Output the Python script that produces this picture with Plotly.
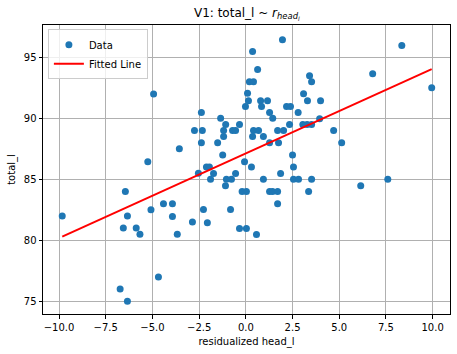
import plotly.graph_objects as go

# Data
resid_head = [
    -9.83, -6.45, -6.34, -6.56, -5.87, -5.67, -6.73, -6.34, -5.25, -5.08,
    -4.68, -4.41, -3.93, -3.93, -3.67, -2.86, -3.56, -2.75, -2.33, -2.38,
    -2.54, -4.94, -2.38, -1.35, -1.08, -1.19, -1.19, -1.51, -1.24, -0.71,
    -0.55, -0.34, -0.07, 0.30, 0.36, 0.41, 0.68, 0.94, 1.27, 1.75,
    1.70, 2.02, 2.34, 1.44, 1.27, 0.79, 1.16, 0.84, -0.02, 0.14,
    0.09, 0.19, 0.41, 0.63, 0.36, 1.96, 2.18, 2.39, 2.80, 2.50,
    2.55, 1.86, 0.94, 2.55, 2.82, -2.11, -1.95, -1.73, -1.89, -1.04,
    -0.77, -0.55, -1.09, -0.20, 0.03, -2.27, -0.82, -2.06, -0.34, 0.03,
    0.57, 1.27, 1.43, 1.70, 1.70, 3.52, 3.36, 3.05, 3.28, 3.30,
    3.52, 4.70, 5.13, 3.41, 3.52, 3.09, 4.00, 3.95, 8.35, 6.79,
    9.95, 6.15, 7.60,
]
total_l = [
    82.0, 84.0, 82.0, 81.0, 81.0, 80.5, 76.0, 75.0, 86.45, 82.5,
    77.0, 83.0, 83.0, 81.95, 80.5, 81.5, 87.5, 89.0, 89.0, 88.0,
    85.5, 92.0, 90.47, 90.0, 89.5, 89.0, 88.5, 88.0, 87.0, 89.0,
    89.0, 89.5, 86.45, 86.0, 88.5, 89.0, 89.0, 88.5, 88.0, 88.0,
    89.0, 89.0, 89.5, 90.0, 90.47, 91.45, 91.45, 90.96, 90.96, 91.45,
    92.05, 93.0, 93.0, 94.0, 95.47, 96.45, 90.96, 90.96, 90.47, 87.0,
    86.0, 85.47, 85.0, 85.0, 85.0, 86.0, 86.0, 85.47, 85.0, 85.0,
    85.0, 85.47, 84.48, 84.0, 84.0, 82.52, 82.52, 81.45, 80.96, 80.96,
    80.47, 84.0, 84.0, 84.0, 83.0, 85.0, 84.0, 89.5, 89.5, 91.45,
    89.5, 89.0, 88.0, 93.5, 93.0, 92.02, 91.45, 89.97, 95.96, 93.66,
    92.5, 84.48, 85.0,
]

# Fitted line coefficients
fit_slope = 0.694
fit_intercept = 87.13

x_ticks = [-10, -7.5, -5, -2.5, 0, 2.5, 5, 7.5, 10]
x_tick_labels = ["\u221210.0", "\u22127.5", "\u22125.0", "\u22122.5", "0.0", "2.5", "5.0", "7.5", "10.0"]
y_ticks = [75, 80, 85, 90, 95]
y_tick_labels = ["75", "80", "85", "90", "95"]

line_x = [min(resid_head), max(resid_head)]
line_y = [fit_intercept + fit_slope * v for v in line_x]

fig = go.Figure()
fig.add_trace(go.Scatter(
    x=resid_head, y=total_l, mode="markers", name="Data",
    marker=dict(color="#1f77b4", size=7, line=dict(width=0)),
))
fig.add_trace(go.Scatter(
    x=line_x, y=line_y, mode="lines", name="Fitted Line",
    line=dict(color="red", width=2),
))

font = "DejaVu Sans, sans-serif"
axis_common = dict(
    showline=True, linecolor="black", linewidth=1, mirror=True,
    ticks="outside", ticklen=3.5, tickcolor="black", tickwidth=0.8,
    showgrid=True, gridcolor="#b0b0b0", gridwidth=0.8, zeroline=False,
    tickfont=dict(family=font, size=10, color="black"),
)
fig.update_layout(
    width=457, height=354,
    margin=dict(l=43, r=7, t=25, b=40),
    paper_bgcolor="white", plot_bgcolor="white",
    font=dict(family=font, size=10, color="black"),
    title=dict(
        text="V1: total_l ~ <i>r</i><sub><i>head<sub>l</sub></i></sub>",
        x=0.54, xanchor="center", y=0.965, yanchor="middle",
        font=dict(family=font, size=12, color="black"),
    ),
    xaxis=dict(
        range=[-10.86, 10.93], tickvals=x_ticks, ticktext=x_tick_labels,
        title=dict(text="residualized head_l", standoff=6,
                   font=dict(family=font, size=10, color="black")),
        **axis_common,
    ),
    yaxis=dict(
        range=[73.96, 97.65], tickvals=y_ticks, ticktext=y_tick_labels,
        title=dict(text="total_l", standoff=6,
                   font=dict(family=font, size=10, color="black")),
        **axis_common,
    ),
    legend=dict(
        x=0.012, y=0.985, xanchor="left", yanchor="top",
        bgcolor="rgba(255,255,255,0.8)", bordercolor="#cccccc", borderwidth=1,
        font=dict(family=font, size=10, color="black"),
        tracegroupgap=0, itemwidth=30,
    ),
    showlegend=True,
)

fig.write_html("out.html")
